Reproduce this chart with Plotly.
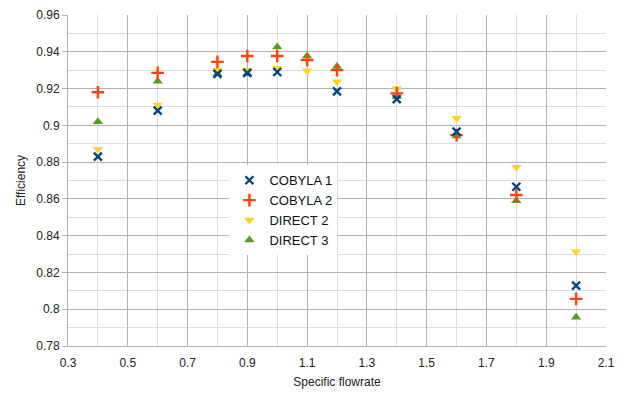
import plotly.graph_objects as go

x_vals = [0.4, 0.6, 0.8, 0.9, 1.0, 1.1, 1.2, 1.4, 1.6, 1.8, 2.0]
cobyla1 = [0.883, 0.908, 0.928, 0.9285, 0.929, None, 0.9185, 0.9143, 0.8966, 0.8666, 0.8128]
cobyla2 = [0.918, 0.9285, 0.9345, 0.9377, 0.9377, 0.9355, 0.930, 0.9174, 0.8947, 0.8621, 0.8056]
direct2 = [0.887, 0.911, 0.930, 0.930, 0.931, 0.9297, 0.9237, 0.920, 0.9038, 0.8772, 0.8313]
direct3 = [0.902, 0.924, 0.928, 0.928, 0.9426, 0.9377, 0.932, 0.9156, 0.8942, 0.859, 0.7956]

series = [
    ("DIRECT 3", direct3, "triangle-up", "#579d1c", 9, 4),
    ("DIRECT 2", direct2, "triangle-down", "#ffd320", 9, 3),
    ("COBYLA 2", cobyla2, "cross-thin-open", "#ff420e", 9, 2),
    ("COBYLA 1", cobyla1, "x-thin-open", "#004586", 8, 1),
]

fig = go.Figure()
for name, ys, sym, col, size, rank in series:
    marker = dict(symbol=sym, color=col, size=size)
    if "open" in sym:
        marker["line"] = dict(color=col, width=2.4)
    else:
        marker["line"] = dict(width=0)
    fig.add_trace(go.Scatter(x=x_vals, y=ys, mode="markers", name=name,
                             marker=marker, legendrank=rank))

fig.update_layout(
    width=644, height=394,
    margin=dict(l=60, r=46, t=7, b=56),
    paper_bgcolor="white", plot_bgcolor="white",
    font=dict(family="Liberation Sans, Arial, sans-serif", size=12, color="#222222"),
    showlegend=True,
    legend=dict(x=0.30, y=0.546, xanchor="left", yanchor="top",
                bgcolor="white", font=dict(size=13, color="#111111"),
                itemwidth=30, tracegroupgap=0),
    xaxis=dict(range=[0.3, 2.1], tick0=0.3, dtick=0.2, showgrid=True,
               gridcolor="#b3b3b3", gridwidth=1, zeroline=False,
               showline=True, linecolor="#b3b3b3",
               ticks="outside", ticklen=6, tickcolor="rgba(0,0,0,0)",
               automargin=False,
               minor=dict(tick0=0.3, dtick=0.1, showgrid=True, gridcolor="#dddddd"),
               title=dict(text="Specific flowrate", font=dict(size=12), standoff=8)),
    yaxis=dict(range=[0.78, 0.96], tick0=0.78, dtick=0.02, showgrid=True,
               gridcolor="#b3b3b3", gridwidth=1, zeroline=False,
               showline=True, linecolor="#b3b3b3", automargin=False,
               ticks="outside", ticklen=5, tickcolor="#b3b3b3",
               minor=dict(tick0=0.78, dtick=0.01, showgrid=True, gridcolor="#dddddd"),
               title=dict(text="Efficiency", font=dict(size=12), standoff=8)),
)

fig.write_html("out.html")
